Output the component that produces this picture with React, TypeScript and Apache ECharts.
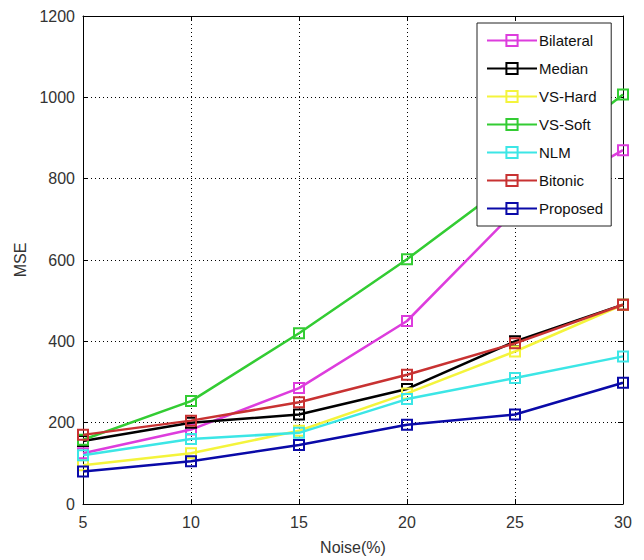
import React, { useEffect, useRef } from "react";
import * as echarts from "echarts";

const noise = [5, 10, 15, 20, 25, 30];
const seriesNames = ["Bilateral", "Median", "VS-Hard", "VS-Soft", "NLM", "Bitonic", "Proposed"];
const bilateral = [125, 183, 285, 450, 720, 870];
const median = [155, 200, 220, 283, 400, 490];
const vsHard = [95, 125, 180, 272, 375, 490];
const vsSoft = [158, 253, 420, 602, 800, 1007];
const nlm = [120, 160, 175, 258, 310, 363];
const bitonic = [170, 205, 250, 318, 395, 490];
const proposed = [80, 105, 145, 195, 220, 298];
const colors = ["#dd3ddd", "#000000", "#f4f43c", "#33cc33", "#3ce6e6", "#c83232", "#0a0aa8"];
const yTicks = { min: 0, max: 1200, interval: 200 };
const xTicks = { min: 5, max: 30, interval: 5 };

const allValues = [bilateral, median, vsHard, vsSoft, nlm, bitonic, proposed];

const labelFont = "Arial, 'Liberation Sans', sans-serif";

export default function App() {
  const ref = useRef<HTMLDivElement>(null);
  useEffect(() => {
    if (!ref.current) return;
    const chart = echarts.init(ref.current, undefined, { renderer: "svg" });
    const series = seriesNames.map((name, i) => ({
      name,
      type: "line",
      data: noise.map((x, j) => [x, allValues[i][j]]),
      symbol: "rect",
      symbolSize: 10,
      showAllSymbol: true,
      lineStyle: { color: colors[i], width: 2.5 },
      itemStyle: { color: "rgba(255,255,255,0)", borderColor: colors[i], borderWidth: 2 },
      emphasis: { disabled: true },
      z: 2 + i * 0.01,
    }));
    const splitLine = { show: true, lineStyle: { color: "#000", type: [1, 3], width: 1 } };
    const plain = (v: number) => String(v);
    chart.setOption({
      animation: false,
      backgroundColor: "#fff",
      grid: { left: 83, right: 21, top: 16, bottom: 55, show: false },
      legend: {
        orient: "vertical",
        left: 477,
        top: 23,
        padding: [10, 8, 10, 9],
        itemWidth: 50,
        itemHeight: 14,
        itemGap: 13,
        backgroundColor: "#fff",
        borderColor: "#222",
        borderWidth: 1,
        borderRadius: 0,
        textStyle: { fontSize: 15, color: "#111", fontFamily: labelFont, padding: [0, 0, 0, -3] },
        data: seriesNames,
      },
      xAxis: [
        {
          type: "value",
          ...xTicks,
          name: "Noise(%)",
          nameLocation: "middle",
          nameGap: 35,
          nameTextStyle: { fontSize: 16, color: "#333", fontFamily: labelFont },
          axisLine: { show: true, onZero: false, lineStyle: { color: "#000", width: 1 } },
          axisTick: { show: true, inside: true, length: 5, lineStyle: { color: "#000" } },
          axisLabel: { fontSize: 16, color: "#333", margin: 10, fontFamily: labelFont, formatter: plain },
          splitLine,
        },
        {
          type: "value",
          position: "top",
          ...xTicks,
          axisLine: { show: true, onZero: false, lineStyle: { color: "#000", width: 1 } },
          axisTick: { show: true, inside: true, length: 5, lineStyle: { color: "#000" } },
          axisLabel: { show: false },
          splitLine: { show: false },
        },
      ],
      yAxis: [
        {
          type: "value",
          ...yTicks,
          name: "MSE",
          nameLocation: "middle",
          nameGap: 55,
          nameTextStyle: { fontSize: 16, color: "#333", fontFamily: labelFont },
          axisLine: { show: true, onZero: false, lineStyle: { color: "#000", width: 1 } },
          axisTick: { show: true, inside: true, length: 5, lineStyle: { color: "#000" } },
          axisLabel: { fontSize: 16, color: "#333", margin: 8, fontFamily: labelFont, formatter: plain },
          splitLine,
        },
        {
          type: "value",
          position: "right",
          ...yTicks,
          axisLine: { show: true, onZero: false, lineStyle: { color: "#000", width: 1 } },
          axisTick: { show: true, inside: true, length: 5, lineStyle: { color: "#000" } },
          axisLabel: { show: false },
          splitLine: { show: false },
        },
      ],
      series,
    });
    return () => chart.dispose();
  }, []);
  return (
    <div
      ref={ref}
      style={{ position: "fixed", left: 0, top: 0, width: 644, height: 560, background: "#fff" }}
    />
  );
}
